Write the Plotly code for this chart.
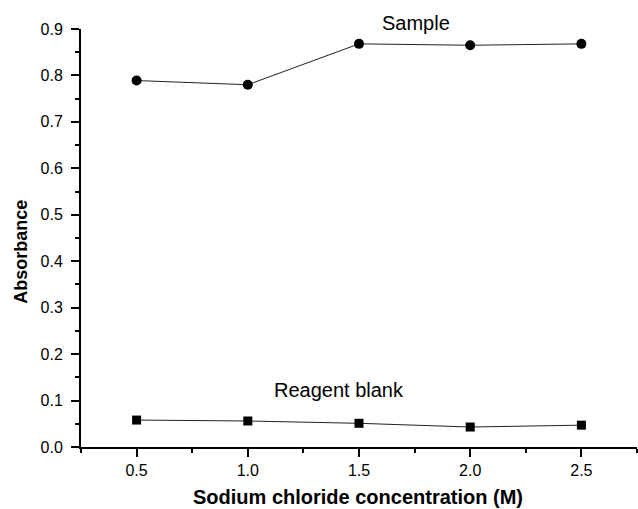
import plotly.graph_objects as go

nacl_conc = [0.5, 1.0, 1.5, 2.0, 2.5]
sample_abs = [0.789, 0.780, 0.868, 0.865, 0.868]
blank_abs = [0.058, 0.056, 0.051, 0.043, 0.047]

x_title = "Sodium chloride concentration (M)"
y_title = "Absorbance"
sample_label = "Sample"
blank_label = "Reagent blank"

FONT = "Liberation Sans, Arial, sans-serif"

fig = go.Figure()
fig.add_trace(go.Scatter(
    x=nacl_conc, y=sample_abs, mode="lines+markers",
    line=dict(color="#222222", width=1),
    marker=dict(symbol="circle", size=10, color="black"),
    cliponaxis=False, showlegend=False))
fig.add_trace(go.Scatter(
    x=nacl_conc, y=blank_abs, mode="lines+markers",
    line=dict(color="#222222", width=1),
    marker=dict(symbol="square", size=9, color="black"),
    cliponaxis=False, showlegend=False))

fig.add_annotation(x=1.758, y=1.0144, xref="x", yref="paper", text=sample_label,
                   xanchor="center", yanchor="middle",
                   showarrow=False, font=dict(family=FONT, size=20, color="black"))
fig.add_annotation(x=1.41, y=0.122, xref="x", yref="y", text=blank_label,
                   xanchor="center", yanchor="middle",
                   showarrow=False, font=dict(family=FONT, size=20, color="black"))

fig.add_annotation(x=-0.107, y=0.466, xref="paper", yref="paper", text=f"<b>{y_title}</b>",
                   xanchor="center", yanchor="middle",
                   textangle=-90, showarrow=False, font=dict(family=FONT, size=18, color="black"))
fig.add_annotation(x=0.498, y=-0.1206, xref="paper", yref="paper", text=f"<b>{x_title}</b>",
                   xanchor="center", yanchor="middle",
                   showarrow=False, font=dict(family=FONT, size=20, color="black"))

fig.update_xaxes(range=[0.25, 2.75], dtick=0.5, tick0=0.5, tickformat=".1f",
                 showline=True, linecolor="black", linewidth=2, mirror=False,
                 ticks="outside", ticklen=8, tickwidth=2, tickcolor="black",
                 minor=dict(ticks="outside", dtick=0.25, tick0=0.25, ticklen=4, tickwidth=2, tickcolor="black"),
                 showgrid=False, zeroline=False,
                 tickfont=dict(family=FONT, size=16, color="black"))
fig.update_yaxes(range=[0, 0.9], dtick=0.1, tick0=0, tickformat=".1f",
                 showline=True, linecolor="black", linewidth=2, mirror=False,
                 ticks="outside", ticklen=8, tickwidth=2, tickcolor="black",
                 minor=dict(ticks="outside", dtick=0.05, ticklen=4, tickwidth=2, tickcolor="black"),
                 showgrid=False, zeroline=False, ticklabelstandoff=5,
                 tickfont=dict(family=FONT, size=16, color="black"))

fig.update_layout(width=638, height=509, margin=dict(l=81, r=1, t=29, b=62),
                  plot_bgcolor="white", paper_bgcolor="white")

fig.write_html("out.html")
